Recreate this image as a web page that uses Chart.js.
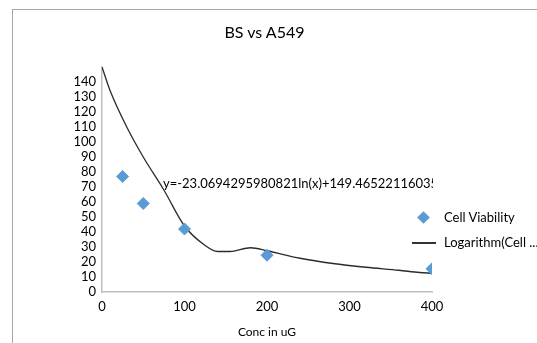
<!DOCTYPE html>
<html>
<head>
<meta charset="utf-8">
<script src="https://cdn.jsdelivr.net/npm/chart.js@4"></script>
<style>
  html, body { margin: 0; padding: 0; background: #fff; }
  #wrap { position: relative; width: 537px; height: 343px; overflow: hidden; font-family: Lato, "Open Sans", sans-serif; }
  #frame { position: absolute; left: 12px; top: 9px; right: -2px; bottom: -2px; border-left: 1.5px solid #a6a6a6; border-top: 1.5px solid #a6a6a6; }
  canvas { position: absolute; left: 0; top: 0; }
  .txt { position: absolute; color: #000; font-size: 13px; white-space: nowrap; }
  #title { left: -4px; width: 537px; text-align: center; top: 22px; font-size: 16px; }
  #eq { left: 163px; top: 175px; width: 270px; overflow: hidden; font-size: 13px; }
  #ytitle { left: -38px; top: 146px; transform: rotate(90deg); font-size: 11px; }
  .lg-diamond { position: absolute; left: 419px; top: 213px; width: 9px; height: 9px; background: #5b9bd5; transform: rotate(45deg); }
  .lg-line { position: absolute; left: 412px; top: 242px; width: 24px; height: 1.5px; background: #333; }
</style>
</head>
<body>
<div id="wrap">
  <div id="frame"></div>
  <canvas id="chart" width="537" height="343"></canvas>
  <div class="txt" id="title">BS vs A549</div>
  <div class="txt" id="ytitle">% of viability</div>
  <div class="txt" id="eq">y=-23.0694295980821ln(x)+149.465221160355</div>
  <div class="lg-diamond"></div>
  <div class="txt" style="left:444px; top:209px;">Cell Viability</div>
  <div class="lg-line"></div>
  <div class="txt" style="left:444px; top:234px;">Logarithm(Cell ...</div>
</div>
<script>
// measured points
const concValues = [25, 50, 100, 200, 400];
const viability = [77, 59, 42, 24.5, 15.5];

// fitted curve as drawn in the picture
const fitConc = [0, 10, 30, 50, 75, 100, 125, 140, 155, 180, 200, 240, 280, 320, 360, 385, 400];
const fitValues = [150, 134, 110, 90, 68, 44, 31, 27, 27, 29.5, 27.5, 22.5, 19, 16.5, 14.5, 13, 12.5];

const xTicks = [0, 100, 200, 300, 400];

const font = { family: 'Lato, "Open Sans", sans-serif', size: 13 };

new Chart(document.getElementById('chart').getContext('2d'), {
    type: 'scatter',
    data: {
        datasets: [
            {
                label: 'Cell Viability',
                data: concValues.map((c, i) => ({ x: c, y: viability[i] })),
                backgroundColor: '#5b9bd5',
                borderColor: '#5b9bd5',
                pointStyle: 'rectRot',
                pointRadius: 6
            },
            {
                label: 'Logarithm(Cell Viability)',
                data: fitConc.map((c, i) => ({ x: c, y: fitValues[i] })),
                showLine: true,
                borderColor: '#2b2b2b',
                borderWidth: 1.3,
                pointRadius: 0,
                cubicInterpolationMode: 'monotone'
            }
        ]
    },
    options: {
        responsive: false,
        animation: false,
        layout: { padding: { left: 0, right: 105, top: 67, bottom: 0 } },
        scales: {
            x: {
                type: 'linear',
                min: 0,
                max: 400,
                afterFit: function(scale) { scale.height = 51; },
                afterBuildTicks: function(scale) { scale.ticks = xTicks.map(v => ({ value: v })); },
                grid: { display: false, drawTicks: false },
                border: { color: '#bfbfbf', width: 1.5 },
                ticks: { color: '#000', font: font, padding: 7, maxRotation: 0 },
                title: { display: true, text: 'Conc in uG', color: '#000', font: { family: font.family, size: 12 }, padding: { top: 6 } }
            },
            y: {
                min: 0,
                max: 150,
                afterFit: function(scale) { scale.width = 102; },
                grid: { display: false, drawTicks: false },
                border: { color: '#bfbfbf', width: 1.5 },
                ticks: {
                    stepSize: 10,
                    autoSkip: false,
                    color: '#000',
                    font: font,
                    padding: 6,
                    callback: function(v) { return v === 150 ? '' : v; }
                }
            }
        },
        plugins: {
            legend: { display: false },
            tooltip: { enabled: false },
            title: { display: false }
        }
    }
});
</script>
</body>
</html>
